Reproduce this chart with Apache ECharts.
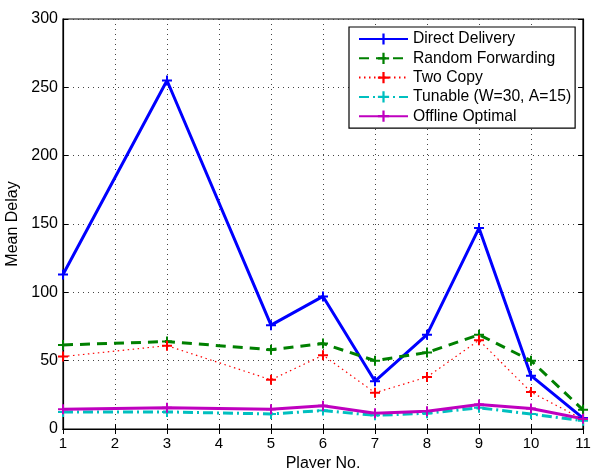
<!DOCTYPE html>
<html>
<head>
<meta charset="utf-8">
<script src="https://cdn.jsdelivr.net/npm/echarts@6/dist/echarts.min.js"></script>
<style>html,body{margin:0;padding:0;background:#fff}#c{width:592px;height:468px}</style>
</head>
<body>
<div id="c"></div>
<script>
const players = [1, 3, 5, 6, 7, 8, 9, 10, 11];
const directDelivery = [113, 255, 76, 97, 35, 69, 147, 39, 8];
const randomForwarding = [61.5, 64, 58, 62.5, 50, 56, 69, 50, 14];
const twoCopy = [53, 61, 36, 54, 26.5, 38, 65, 27, 7];
const tunable = [12.5, 12.5, 11, 13.5, 10, 11.5, 15.5, 11, 6];
const offlineOptimal = [14.5, 15.5, 14.5, 17, 11.5, 13, 18, 15, 7.5];
const xTicks = [1,2,3,4,5,6,7,8,9,10,11];
const seriesNames = ['Direct Delivery','Random Forwarding','Two Copy','Tunable (W=30, A=15)','Offline Optimal'];

const plus = 'path://M4,0h2v4h4v2h-4v4h-2v-4h-4v-2h4z';
const font = 'Liberation Sans, Arial, sans-serif';
function pairs(v){ return players.map((p,i)=>[p,v[i]]); }
function mk(name, data, color, width, type, symSize){
  return {
    name, type:'line', data: pairs(data), symbol: plus, symbolSize: symSize||10,
    itemStyle:{color}, lineStyle:{color, width, type},
    emphasis:{disabled:true}, animation:false, z: 2
  };
}
const chart = echarts.init(document.getElementById('c'));
chart.setOption({
  backgroundColor:'#fff',
  animation:false,
  grid:{left:63, right:9, top:19, bottom:39, show:true, borderColor:'#000', borderWidth:1.2, outerBoundsMode:'none', containLabel:false},
  legend:{
    orient:'vertical', left:349, top:27,
    backgroundColor:'#fff', borderColor:'#000', borderWidth:1.2,
    padding:[4,4,4,9], itemGap:3.3, itemWidth:49, itemHeight:14,
    textStyle:{fontFamily:font, fontSize:15.7, lineHeight:14, color:'#000', padding:[0,0,0,0]},
    data: seriesNames
  },
  xAxis:[{
    type:'value', min:1, max:11, interval:1,
    name:'Player No.', nameLocation:'middle', nameGap:24,
    nameTextStyle:{fontFamily:font, fontSize:16, color:'#000'},
    axisLine:{show:true, lineStyle:{color:'#000', width:1.2}},
    axisTick:{show:true, inside:true, length:5, lineStyle:{color:'#000'}},
    axisLabel:{fontFamily:font, fontSize:15, color:'#000', margin:7},
    splitLine:{show:true, lineStyle:{color:'#444', type:[1,4], width:1}}
  },{
    type:'value', min:1, max:11, interval:1, position:'top',
    axisLine:{show:true, lineStyle:{color:'#000', width:1.2}},
    axisTick:{show:true, inside:true, length:5, lineStyle:{color:'#000'}},
    axisLabel:{show:false}, splitLine:{show:false}
  }],
  yAxis:[{
    type:'value', min:0, max:300, interval:50,
    name:'Mean Delay', nameLocation:'middle', nameGap:34,
    nameTextStyle:{fontFamily:font, fontSize:16, color:'#000'},
    axisLine:{show:true, lineStyle:{color:'#000', width:1.2}},
    axisTick:{show:true, inside:true, length:5, lineStyle:{color:'#000'}},
    axisLabel:{fontFamily:font, fontSize:16, color:'#000', margin:5},
    splitLine:{show:true, lineStyle:{color:'#444', type:[1,4], width:1}}
  },{
    type:'value', min:0, max:300, interval:50, position:'right',
    axisLine:{show:true, lineStyle:{color:'#000', width:1.2}},
    axisTick:{show:true, inside:true, length:5, lineStyle:{color:'#000'}},
    axisLabel:{show:false}, splitLine:{show:false}
  }],
  series:[
    mk(seriesNames[0], directDelivery, '#0000ff', 3, 'solid'),
    mk(seriesNames[1], randomForwarding, '#008000', 3, [10,7]),
    mk(seriesNames[2], twoCopy, '#ff0000', 1.2, [1.5,3.5]),
    mk(seriesNames[3], tunable, '#00bfbf', 3, [10,4,2,4]),
    mk(seriesNames[4], offlineOptimal, '#bf00bf', 3, 'solid')
  ]
});
</script>
</body>
</html>
